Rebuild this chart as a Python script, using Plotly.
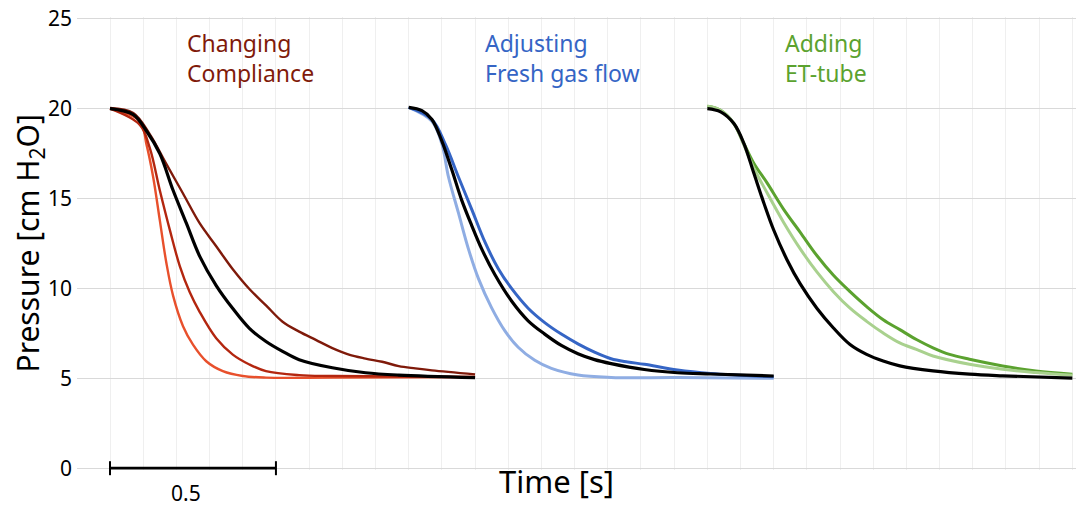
import plotly.graph_objects as go

# --- changing compliance (starts at 0.1 s) ---
cc_t_black = [0.10, 0.17, 0.21, 0.25, 0.29, 0.33, 0.37, 0.42, 0.47, 0.52, 0.57, 0.62, 0.67, 0.77, 0.87, 0.97, 1.20]
cc_p_black = [20.0, 19.67, 18.76, 17.5, 15.46, 13.63, 11.8, 10.16, 8.88, 7.78, 7.05, 6.5, 6.04, 5.59, 5.31, 5.18, 5.04]

cc_t_low = [0.10, 0.17, 0.22, 0.27, 0.32, 0.37, 0.42, 0.47, 0.52, 0.57, 0.62, 0.67, 0.72, 0.77, 0.82, 0.87, 0.92, 0.97, 1.02, 1.07, 1.20]
cc_p_low = [20.04, 19.76, 18.57, 16.92, 15.28, 13.63, 12.35, 11.07, 9.97, 9.06, 8.15, 7.6, 7.14, 6.68, 6.32, 6.1, 5.92, 5.68, 5.55, 5.44, 5.22]

cc_t_mid = [0.10, 0.19, 0.22, 0.25, 0.28, 0.31, 0.34, 0.37, 0.42, 0.47, 0.52, 0.57, 0.67, 0.77, 1.20]
cc_p_mid = [20.0, 19.1, 17.8, 15.46, 13.27, 11.26, 9.8, 8.7, 7.23, 6.32, 5.77, 5.4, 5.18, 5.13, 5.07]

cc_t_high = [0.10, 0.19, 0.21, 0.23, 0.25, 0.27, 0.29, 0.32, 0.35, 0.39, 0.44, 0.50, 0.57, 0.77, 1.20]
cc_p_high = [20.0, 19.3, 18.0, 16.2, 13.8, 11.4, 9.6, 7.9, 6.87, 5.95, 5.4, 5.13, 5.04, 5.04, 5.07]

# --- fresh gas flow (starts at 1.0 s) ---
fg_t_black = [1.00, 1.04, 1.07, 1.10, 1.13, 1.16, 1.19, 1.22, 1.26, 1.31, 1.36, 1.41, 1.46, 1.51, 1.56, 1.61, 1.71, 1.81, 1.91, 2.10]
fg_p_black = [20.07, 19.89, 19.4, 18.2, 16.6, 14.9, 13.5, 12.2, 10.76, 9.3, 8.2, 7.46, 6.83, 6.37, 6.04, 5.82, 5.49, 5.31, 5.24, 5.13]

fg_t_low = [1.00, 1.07, 1.11, 1.15, 1.19, 1.23, 1.27, 1.31, 1.36, 1.41, 1.46, 1.51, 1.56, 1.61, 1.66, 1.71, 1.81, 1.91, 2.10]
fg_p_low = [20.07, 19.4, 18.04, 16.2, 14.4, 12.57, 11.1, 10.0, 8.9, 8.1, 7.46, 6.92, 6.46, 6.09, 5.91, 5.78, 5.46, 5.27, 5.09]

fg_t_high = [1.00, 1.07, 1.10, 1.12, 1.15, 1.18, 1.21, 1.25, 1.29, 1.33, 1.38, 1.43, 1.51, 1.61, 1.81, 2.10]
fg_p_high = [20.07, 19.3, 18.04, 16.2, 14.2, 12.2, 10.56, 8.92, 7.64, 6.73, 6.0, 5.55, 5.18, 5.05, 5.04, 5.0]

# --- ET-tube (starts at 1.9 s) ---
et_t_black = [1.90, 1.94, 1.98, 2.01, 2.04, 2.07, 2.10, 2.14, 2.18, 2.23, 2.28, 2.33, 2.38, 2.43, 2.48, 2.58, 2.69, 2.79, 3.00]
et_p_black = [20.0, 19.82, 19.17, 18.07, 16.42, 14.77, 13.25, 11.6, 10.25, 8.9, 7.8, 6.88, 6.33, 5.96, 5.69, 5.41, 5.23, 5.14, 5.01]

et_t_tube = [1.90, 1.94, 1.98, 2.01, 2.04, 2.08, 2.13, 2.18, 2.23, 2.28, 2.33, 2.38, 2.43, 2.48, 2.53, 2.58, 2.63, 2.69, 2.79, 2.89, 3.00]
et_p_tube = [20.13, 19.91, 19.17, 18.07, 16.97, 15.87, 14.4, 13.12, 11.83, 10.73, 9.82, 8.99, 8.26, 7.71, 7.16, 6.7, 6.33, 6.06, 5.69, 5.41, 5.23]

et_t_light = [1.90, 1.94, 1.98, 2.01, 2.04, 2.08, 2.13, 2.18, 2.23, 2.28, 2.33, 2.38, 2.43, 2.48, 2.53, 2.58, 2.69, 2.79, 2.89, 3.00]
et_p_light = [20.13, 19.91, 19.17, 17.98, 16.7, 15.32, 13.67, 12.2, 10.92, 9.82, 8.9, 8.17, 7.52, 6.97, 6.61, 6.24, 5.78, 5.5, 5.32, 5.17]

# scale bar (0.5 s)
bar_t = [0.1, 0.6]
bar_p = [0, 0]

fig = go.Figure()


def add_curve(t, p, color, width):
    fig.add_trace(go.Scatter(x=t, y=p, mode='lines',
                             line=dict(color=color, width=width, shape='spline', smoothing=1.0),
                             hoverinfo='skip'))


add_curve(cc_t_high, cc_p_high, '#e8502c', 2.4)
add_curve(cc_t_mid, cc_p_mid, '#b3260f', 2.4)
add_curve(cc_t_low, cc_p_low, '#7f1a0a', 2.4)
add_curve(cc_t_black, cc_p_black, '#000000', 3.2)

add_curve(fg_t_high, fg_p_high, '#8fade3', 3)
add_curve(fg_t_low, fg_p_low, '#3565c5', 3)
add_curve(fg_t_black, fg_p_black, '#000000', 3.2)

add_curve(et_t_tube, et_p_tube, '#5ba22f', 3)
add_curve(et_t_light, et_p_light, '#a9d18e', 3)
add_curve(et_t_black, et_p_black, '#000000', 3.2)

fig.add_trace(go.Scatter(x=bar_t, y=bar_p, mode='lines+markers',
                         line=dict(color='#000000', width=2.8),
                         marker=dict(symbol='line-ns', size=10,
                                     line=dict(color='#000000', width=2)),
                         cliponaxis=False, hoverinfo='skip'))

font = 'Noto Sans, Open Sans, sans-serif'
fig.add_annotation(x=0.33, y=0, yshift=-25, text='0.5',
                   showarrow=False, font=dict(family=font, size=21, color='#000000'))
fig.add_annotation(x=0.5, xref='paper', y=0, yref='paper', yshift=-34, xshift=-22,
                   text='Time [s]', showarrow=False,
                   font=dict(family=font, size=31, color='#000000'))
fig.add_annotation(x=-0.0489, xref='paper', y=0.5, yref='paper', textangle=-90,
                   xanchor='center', yanchor='middle',
                   text='Pressure [cm H<sub>2</sub>O]', showarrow=False,
                   font=dict(family=font, size=30, color='#000000'))
fig.add_annotation(x=0.326, y=22.84, text='Changing<br>Compliance', showarrow=False,
                   xanchor='left', align='left', font=dict(family=font, size=23, color='#7f1a0a'))
fig.add_annotation(x=1.224, y=22.84, text='Adjusting<br>Fresh gas flow', showarrow=False,
                   xanchor='left', align='left', font=dict(family=font, size=23, color='#3565c5'))
fig.add_annotation(x=2.128, y=22.84, text='Adding<br>ET-tube', showarrow=False,
                   xanchor='left', align='left', font=dict(family=font, size=23, color='#5ba22f'))

# page body adds 8px offset, so the figure is drawn 8px smaller
fig.update_layout(
    width=1076, height=517,
    margin=dict(l=69, r=5, t=9, b=55),
    paper_bgcolor='white', plot_bgcolor='white',
    showlegend=False,
    font=dict(family=font),
)
fig.update_xaxes(range=[0.0005, 3.02], dtick=0.1, tick0=0, showticklabels=False, automargin=False,
                 showgrid=True, gridcolor='#efefef', gridwidth=1, zeroline=False, showline=False)
fig.update_yaxes(range=[-0.1, 25.1], dtick=5, showgrid=True, gridcolor='#d9d9d9', gridwidth=1.3,
                 zeroline=False, showline=False, ticks='', ticklabelstandoff=4,
                 ticklabeloverflow='allow', automargin=False,
                 tickfont=dict(size=21, color='#000000'))

fig.write_html("out.html")
